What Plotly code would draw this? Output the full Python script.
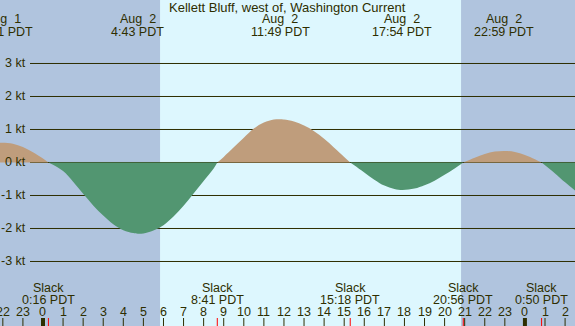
import plotly.graph_objects as go

# ---- data (hours relative to Aug 2 00:00 PDT) ----
curve_hours = [-2.2, -2.0, -1.5, -1.0, -0.5, 0.0, 0.27,
               0.5, 1.0, 1.5, 2.0, 2.5, 3.0, 3.5, 4.0, 4.5, 4.72, 5.0, 5.5, 6.0, 6.5, 7.0, 7.5, 8.0, 8.5, 8.68,
               9.0, 9.5, 10.0, 10.5, 11.0, 11.5, 11.82, 12.0, 12.5, 13.0, 13.5, 14.0, 14.5, 15.0, 15.3,
               15.5, 16.0, 16.5, 17.0, 17.5, 17.9, 18.5, 19.0, 19.5, 20.0, 20.5, 20.93,
               21.5, 22.0, 22.5, 22.98, 23.5, 24.0, 24.5, 24.83,
               25.5, 26.0, 26.6]
curve_knots = [0.60, 0.60, 0.57, 0.47, 0.31, 0.12, 0.0,
               -0.07, -0.26, -0.58, -0.95, -1.30, -1.61, -1.87, -2.05, -2.14, -2.16, -2.15, -2.06, -1.90, -1.64, -1.31, -0.94, -0.56, -0.18, 0.0,
               0.17, 0.46, 0.75, 1.03, 1.21, 1.30, 1.31, 1.30, 1.24, 1.12, 0.95, 0.72, 0.45, 0.17, 0.0,
               -0.08, -0.30, -0.52, -0.70, -0.80, -0.83, -0.79, -0.69, -0.55, -0.37, -0.18, 0.0,
               0.14, 0.26, 0.33, 0.35, 0.32, 0.23, 0.10, 0.0,
               -0.33, -0.60, -0.90]

max_hours = [-1.98, 4.72, 11.82, 17.9, 22.98]
max_dates = ["Aug \u00a01", "Aug \u00a02", "Aug \u00a02", "Aug \u00a02", "Aug \u00a02"]
max_times = ["22:01 PDT", "4:43 PDT", "11:49 PDT", "17:54 PDT", "22:59 PDT"]

slack_hours = [0.27, 8.68, 15.3, 20.93, 24.83]
slack_times = ["0:16 PDT", "8:41 PDT", "15:18 PDT", "20:56 PDT", "0:50 PDT"]

hour_ticks = list(range(-2, 27))
midnights = [0, 24]
night_spans = [(-3.0, 5.83), (20.82, 27.0)]
grid_levels = [3, 2, 1, 0, -1, -2, -3]
grid_labels = ["3 kt", "2 kt", "1 kt", "0 kt", "-1 kt", "-2 kt", "-3 kt"]

# ---- styles ----
W, H = 575, 326
DAY = "#ddf7fe"
NIGHT = "#b0c4de"
FLOOD = "#bf9d7c"
EBB = "#529671"
INK = "#2e2e00"
FONT = "Liberation Sans"
X0, X1 = -2.141, 26.494
Y0, Y1 = -4.955, 4.924

fig = go.Figure()

# split curve into segments at slack (zero) points
segments = []
cur_x, cur_y = [], []
for h, v in zip(curve_hours, curve_knots):
    cur_x.append(h)
    cur_y.append(v)
    if v == 0 and len(cur_x) > 1:
        segments.append((cur_x, cur_y))
        cur_x, cur_y = [h], [v]
if len(cur_x) > 1:
    segments.append((cur_x, cur_y))

for sx, sy in segments:
    sign = sum(sy)
    col = FLOOD if sign > 0 else EBB
    fig.add_trace(go.Scatter(x=sx, y=sy, mode="lines", line=dict(color=col, width=0, shape="spline"),
                             fill="tozeroy", fillcolor=col, hoverinfo="skip", showlegend=False))

shapes = []
for a, b in night_spans:
    shapes.append(dict(type="rect", xref="x", yref="paper", x0=a, x1=b, y0=0, y1=1,
                       fillcolor=NIGHT, line=dict(width=0), layer="below"))
for lv in grid_levels:
    shapes.append(dict(type="line", xref="paper", yref="y", x0=30 / W, x1=1, y0=lv, y1=lv,
                       line=dict(color=INK, width=1), layer="below"))
for h in hour_ticks:
    shapes.append(dict(type="line", xref="x", yref="paper", x0=h, x1=h, y0=0, y1=8 / H,
                       line=dict(color=INK, width=1)))
for h in midnights:
    shapes.append(dict(type="line", xref="x", yref="paper", x0=h, x1=h, y0=0, y1=8 / H,
                       line=dict(color=INK, width=4)))
for h in slack_hours:
    shapes.append(dict(type="line", xref="x", yref="paper", x0=h, x1=h, y0=0, y1=8 / H,
                       line=dict(color="#ff0000", width=1)))

ann = []
fs = 12.5
ann.append(dict(text="Kellett Bluff, west of, Washington Current", x=0.5, xref="paper",
                y=1 - 7.5 / H, yref="paper", showarrow=False, font=dict(size=13, color=INK, family=FONT),
                xanchor="center", yanchor="middle"))
for h, d, t in zip(max_hours, max_dates, max_times):
    ann.append(dict(text=d, x=h, xref="x", y=1 - 19 / H, yref="paper", showarrow=False,
                    font=dict(size=fs, color=INK, family=FONT), xanchor="center", yanchor="middle"))
    ann.append(dict(text=t, x=h, xref="x", y=1 - 31.5 / H, yref="paper", showarrow=False,
                    font=dict(size=fs, color=INK, family=FONT), xanchor="center", yanchor="middle"))
for h, t in zip(slack_hours, slack_times):
    ann.append(dict(text="Slack", x=h, xref="x", y=1 - 287.5 / H, yref="paper", showarrow=False,
                    font=dict(size=fs, color=INK, family=FONT), xanchor="center", yanchor="middle"))
    ann.append(dict(text=t, x=h, xref="x", y=1 - 299.5 / H, yref="paper", showarrow=False,
                    font=dict(size=fs, color=INK, family=FONT), xanchor="center", yanchor="middle"))
for h in hour_ticks:
    ann.append(dict(text=str(h % 24), x=h, xref="x", y=1 - 311.5 / H, yref="paper", showarrow=False,
                    font=dict(size=fs, color=INK, family=FONT), xanchor="center", yanchor="middle"))
for lv, lb in zip(grid_levels, grid_labels):
    ann.append(dict(text=lb, x=28 / W, xref="paper", y=lv, yref="y", showarrow=False,
                    font=dict(size=fs, color=INK, family=FONT), xanchor="right", yanchor="middle"))

fig.update_layout(
    width=W, height=H, margin=dict(l=0, r=0, t=0, b=0),
    paper_bgcolor=DAY, plot_bgcolor=DAY,
    xaxis=dict(range=[X0, X1], visible=False, fixedrange=True),
    yaxis=dict(range=[Y0, Y1], visible=False, fixedrange=True),
    shapes=shapes, annotations=ann, showlegend=False,
)
fig.write_html("out.html", config={"displayModeBar": False},
               post_script="document.body.style.margin='0';document.body.style.overflow='hidden';")
